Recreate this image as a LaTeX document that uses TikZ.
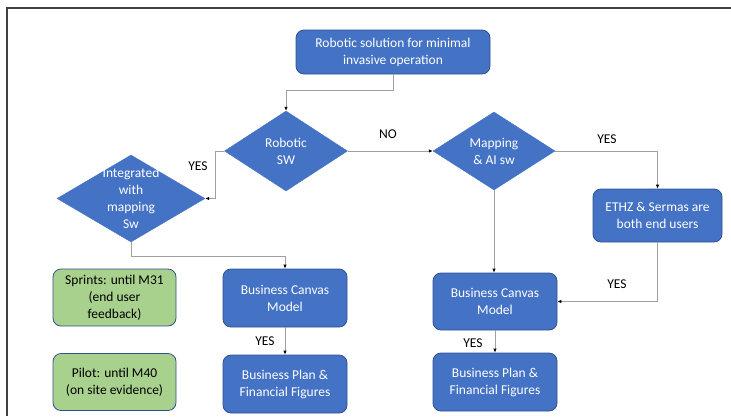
\documentclass[tikz,border=0pt]{standalone}
\usepackage{fontspec}
\setmainfont{Carlito}
\usetikzlibrary{shapes.geometric,arrows.meta}
\definecolor{boxblue}{HTML}{4472C4}
\definecolor{boxedge}{HTML}{2F528F}
\definecolor{notegreen}{HTML}{A9D18E}
\definecolor{linegray}{HTML}{A0A0A0}
\tikzset{
  blk/.style={draw=boxedge, fill=boxblue, rounded corners=8pt, text=white, align=center, inner sep=0pt, line width=0.8pt},
  note/.style={draw=boxedge, fill=notegreen, rounded corners=8pt, text=black, align=center, inner sep=0pt, line width=0.8pt,
    minimum width=123pt, minimum height=57pt},
  decision/.style={diamond, draw=boxblue, fill=boxblue, inner sep=0pt},
  dtext/.style={text=white, align=center},
  flow/.style={draw=linegray, line width=0.8pt, -{Latex[length=4pt,width=3.5pt,black]}},
  lbl/.style={text=black}
}
\begin{document}
\begin{tikzpicture}[x=1pt,y=-1pt,font=\fontsize{13.5}{17}\selectfont]
  \useasboundingbox (0,0) rectangle (731,416);
  % frame
  \draw[black!75, line width=1.5pt] (7,416) -- (7,8) -- (731,8);
  % boxes
  \node[blk, minimum width=194pt, minimum height=44pt] (top) at (393,52) {Robotic solution for minimal\\invasive operation};
  \node[decision, minimum width=123pt, minimum height=80pt] (rsw) at (286,151) {};
  \node[dtext] at (rsw) {Robotic\\SW};
  \node[decision, minimum width=148pt, minimum height=87pt] (int) at (131,198.5) {};
  \node[dtext] at (int) {Integrated\\with\\mapping\\Sw};
  \node[decision, minimum width=122pt, minimum height=78pt] (map) at (494,151) {};
  \node[dtext] at (map) {Mapping\\\& AI sw};
  \node[blk, minimum width=129pt, minimum height=53pt] (ethz) at (657.5,215.5) {ETHZ \& Sermas are\\both end users};
  \node[blk, minimum width=124pt, minimum height=58pt] (bcm1) at (285,298) {Business Canvas\\Model};
  \node[blk, minimum width=124pt, minimum height=58pt] (bp1) at (285,384) {Business Plan \&\\Financial Figures};
  \node[blk, minimum width=124pt, minimum height=57pt] (bcm2) at (495,301.5) {Business Canvas\\Model};
  \node[blk, minimum width=124pt, minimum height=58pt] (bp2) at (495,382) {Business Plan \&\\Financial Figures};
  \node[note] (sprint) at (114.5,297.5) {Sprints: until M31\\(end user\\feedback)};
  \node[note] (pilot) at (114.5,382) {Pilot: until M40\\(on site evidence)};
  % connectors
  \draw[flow] (top.south) -- ++(0,16) -| (rsw.north);
  \draw[flow] (rsw.west) -- ++(-9,0) |- (int.east);
  \draw[flow] (int.south) -- ++(0,14) -| (bcm1.north);
  \draw[flow] (bcm1.south) -- (bp1.north);
  \draw[flow] (rsw.east) -- (map.west);
  \draw[flow] (map.east) -| (ethz.north);
  \draw[flow] (map.south) -- (map.south |- bcm2.north);
  \draw[flow] (ethz.south) |- (bcm2.east);
  \draw[flow] (bcm2.south) -- (bp2.north);
  % labels
  \node[lbl] (y1) at (198,166) {YES};
  \node[lbl] (no) at (388,134) {NO};
  \node[lbl] (y2) at (607,139) {YES};
  \node[lbl] (y3) at (617,284) {YES};
  \node[lbl] (y4) at (265,341) {YES};
  \node[lbl] (y5) at (473,343) {YES};
\end{tikzpicture}
\end{document}
